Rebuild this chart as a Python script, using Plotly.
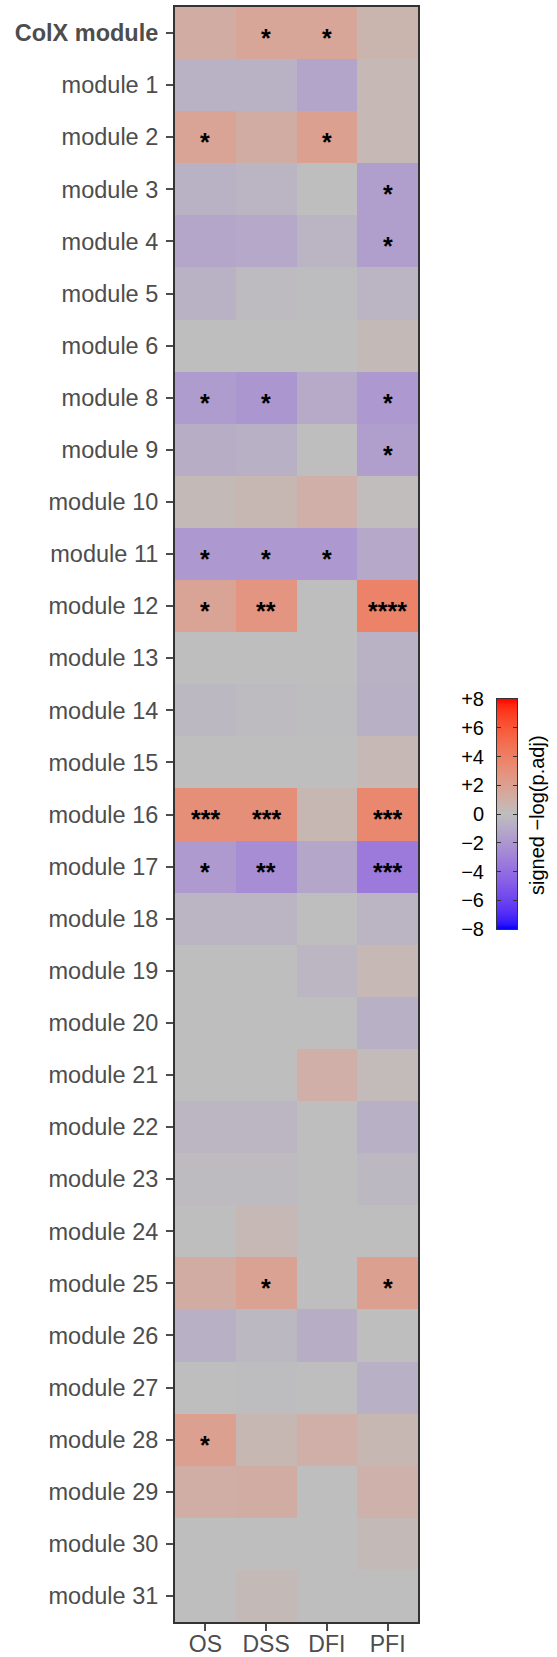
import numpy as np
import plotly.graph_objects as go

# ---------------- data ----------------
modules = ["ColX module", "module 1", "module 2", "module 3", "module 4", "module 5",
           "module 6", "module 8", "module 9", "module 10", "module 11", "module 12",
           "module 13", "module 14", "module 15", "module 16", "module 17", "module 18",
           "module 19", "module 20", "module 21", "module 22", "module 23", "module 24",
           "module 25", "module 26", "module 27", "module 28", "module 29", "module 30",
           "module 31"]
endpoints = ["OS", "DSS", "DFI", "PFI"]

os_vals  = [1.2, -0.6, 1.8, -0.6, -1.2, -0.6, 0.0, -1.7, -0.8, 0.3, -1.9, 1.8, 0.0, -0.3, 0.0,
            3.1, -1.8, -0.5, 0.0, 0.0, 0.0, -0.4, -0.2, 0.0, 1.2, -0.7, 0.0, 2.0, 1.1, 0.0, 0.0]
dss_vals = [1.6, -0.6, 1.2, -0.5, -1.1, -0.2, 0.0, -2.0, -0.7, 0.5, -1.9, 2.7, 0.0, -0.2, 0.0,
            3.1, -2.4, -0.5, 0.0, 0.0, 0.0, -0.4, -0.2, 0.4, 1.9, -0.3, -0.1, 0.5, 1.2, 0.0, 0.3]
dfi_vals = [1.6, -1.3, 2.0, 0.0, -0.5, -0.1, 0.0, -1.0, 0.0, 1.0, -1.9, 0.0, 0.0, -0.1, 0.0,
            0.5, -1.2, 0.0, -0.4, 0.0, 1.0, 0.0, 0.0, 0.0, 0.0, -0.8, 0.0, 1.0, 0.0, 0.0, 0.0]
pfi_vals = [0.7, 0.4, 0.4, -1.6, -1.6, -0.5, 0.3, -1.9, -1.6, 0.1, -1.1, 3.8, -0.6, -0.7, 0.4,
            3.5, -3.4, -0.5, 0.4, -0.7, 0.2, -0.7, -0.3, 0.0, 2.0, 0.0, -0.7, 0.5, 0.9, 0.3, 0.0]

os_sig  = ["", "", "*", "", "", "", "", "*", "", "", "*", "*", "", "", "", "***", "*", "", "",
           "", "", "", "", "", "", "", "", "*", "", "", ""]
dss_sig = ["*", "", "", "", "", "", "", "*", "", "", "*", "**", "", "", "", "***", "**", "", "",
           "", "", "", "", "", "*", "", "", "", "", "", ""]
dfi_sig = ["*", "", "*", "", "", "", "", "", "", "", "*", "", "", "", "", "", "", "", "",
           "", "", "", "", "", "", "", "", "", "", "", ""]
pfi_sig = ["", "", "", "*", "*", "", "", "*", "*", "", "", "****", "", "", "", "***", "***", "",
           "", "", "", "", "", "", "*", "", "", "", "", "", ""]

legend_ticks = [-8, -6, -4, -2, 0, 2, 4, 6, 8]
legend_ticktext = ["\u22128", "\u22126", "\u22124", "\u22122", "0", "+2", "+4", "+6", "+8"]

z = np.array([os_vals, dss_vals, dfi_vals, pfi_vals]).T
sig_cols = [os_sig, dss_sig, dfi_sig, pfi_sig]

# ---------------- colour scale (LAB interpolation blue-grey-red) ----------------
def _lin(c):
    c = c / 255.0
    return ((c + 0.055) / 1.055) ** 2.4 if c > 0.04045 else c / 12.92

def _gam(c):
    c = min(max(c, 0.0), 1.0)
    v = 1.055 * c ** (1 / 2.4) - 0.055 if c > 0.0031308 else 12.92 * c
    return int(round(min(max(v, 0), 1) * 255))

WX, WY, WZ = 0.95047, 1.0, 1.08883

def rgb2lab(rgb):
    r, g, b = [_lin(c) for c in rgb]
    X = 0.4124 * r + 0.3576 * g + 0.1805 * b
    Y = 0.2126 * r + 0.7152 * g + 0.0722 * b
    Z = 0.0193 * r + 0.1192 * g + 0.9505 * b
    def f(t):
        return t ** (1 / 3) if t > 0.008856 else 7.787 * t + 16 / 116
    fx, fy, fz = f(X / WX), f(Y / WY), f(Z / WZ)
    return (116 * fy - 16, 500 * (fx - fy), 200 * (fy - fz))

def lab2rgb(lab):
    L, a, b = lab
    fy = (L + 16) / 116
    fx = fy + a / 500
    fz = fy - b / 200
    def finv(t):
        return t ** 3 if t ** 3 > 0.008856 else (t - 16 / 116) / 7.787
    X, Y, Z = WX * finv(fx), WY * finv(fy), WZ * finv(fz)
    r = 3.2406 * X - 1.5372 * Y - 0.4986 * Z
    g = -0.9689 * X + 1.8758 * Y + 0.0415 * Z
    bb = 0.0557 * X - 0.2040 * Y + 1.0570 * Z
    return (_gam(r), _gam(g), _gam(bb))

blue, grey, red = rgb2lab((0, 0, 255)), rgb2lab((190, 190, 190)), rgb2lab((255, 0, 0))
colorscale = []
nstops = 40
for i in range(nstops + 1):
    s = i / nstops
    if s <= 0.5:
        t = s / 0.5
        lab = tuple(blue[k] + (grey[k] - blue[k]) * t for k in range(3))
    else:
        t = (s - 0.5) / 0.5
        lab = tuple(grey[k] + (red[k] - grey[k]) * t for k in range(3))
    r, g, b = lab2rgb(lab)
    colorscale.append([s, f"rgb({r},{g},{b})"])

# ---------------- figure ----------------
W, H = 557, 1657
FONT = "Liberation Sans, Arial, Helvetica, sans-serif"
AX_COL = "#4d4d4d"

def px_x(x):
    return x / W

def px_y(y):
    return (H - y) / H

fig = go.Figure()

fig.add_trace(go.Heatmap(
    z=z, x=endpoints, y=modules,
    colorscale=colorscale, zmin=-8, zmax=8, showscale=False,
    xaxis="x", yaxis="y", hoverinfo="skip",
))

# legend gradient bar (colour key)
key_vals = np.linspace(-8, 8, 321)
fig.add_trace(go.Heatmap(
    z=[[v] for v in key_vals], x=[0], y=key_vals,
    colorscale=colorscale, zmin=-8, zmax=8, showscale=False,
    xaxis="x2", yaxis="y2", hoverinfo="skip",
))

# significance marks, placed on the category axes
annotations = []
for ep, sig in zip(endpoints, sig_cols):
    for mod, s in zip(modules, sig):
        if s:
            annotations.append(dict(
                x=ep, y=mod, xref="x", yref="y", text=s, showarrow=False,
                xanchor="center", yanchor="middle", yshift=-5,
                font=dict(size=25, color="black", family=FONT, weight="bold"),
            ))

annotations.append(dict(
    text="signed \u2212log(p.adj)", textangle=-90,
    x=px_x(537), y=px_y(815), xref="paper", yref="paper",
    xanchor="center", yanchor="middle", showarrow=False,
    font=dict(size=20, color="black", family=FONT),
))

ticktext_y = ["<b>ColX module</b>"] + modules[1:]

fig.update_layout(
    width=W, height=H,
    margin=dict(l=0, r=0, t=0, b=0, pad=0, autoexpand=False),
    paper_bgcolor="white", plot_bgcolor="white",
    font=dict(family=FONT),
    xaxis=dict(
        domain=[px_x(175), px_x(418)], anchor="y", automargin=False,
        showgrid=False, zeroline=False,
        showline=True, mirror=True, linecolor="#333333", linewidth=2,
        ticks="outside", ticklen=7, tickwidth=1.5, tickcolor=AX_COL,
        tickfont=dict(size=23, color=AX_COL, family=FONT),
        ticklabelstandoff=-7,
    ),
    yaxis=dict(
        domain=[px_y(1622), px_y(7)], anchor="x", automargin=False,
        autorange="reversed",
        tickmode="array", tickvals=modules, ticktext=ticktext_y,
        showgrid=False, zeroline=False,
        showline=True, mirror=True, linecolor="#333333", linewidth=2,
        ticks="outside", ticklen=7, tickwidth=1.5, tickcolor=AX_COL,
        tickfont=dict(size=23.5, color=AX_COL, family=FONT),
        ticklabelstandoff=3,
    ),
    xaxis2=dict(
        domain=[px_x(497), px_x(517)], anchor="y2", automargin=False,
        range=[-0.5, 0.5], showgrid=False, zeroline=False,
        showticklabels=False, ticks="",
        showline=True, mirror=True, linecolor="#333333", linewidth=1,
    ),
    yaxis2=dict(
        domain=[px_y(929), px_y(699)], anchor="x2", automargin=False,
        range=[-8, 8], showgrid=False, zeroline=False,
        tickmode="array", tickvals=legend_ticks, ticktext=legend_ticktext,
        ticks="inside", ticklen=4, tickwidth=1, tickcolor="#333333",
        showline=True, mirror="allticks", linecolor="#333333", linewidth=1,
        tickfont=dict(size=20, color="black", family=FONT),
        ticklabelstandoff=8,
    ),
    annotations=annotations,
)

fig.write_html("out.html")
